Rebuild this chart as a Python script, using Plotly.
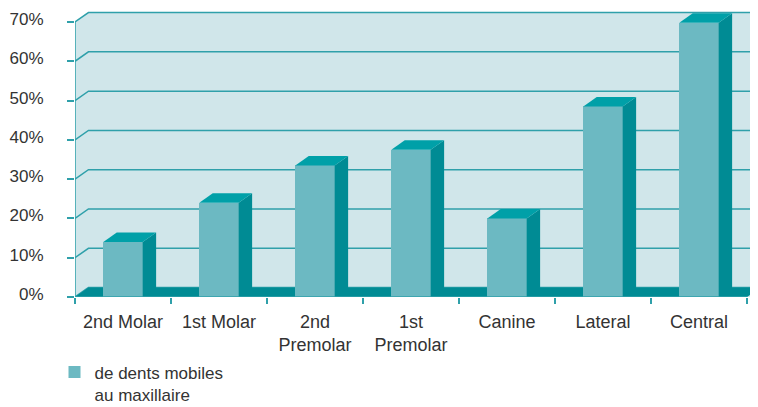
import plotly.graph_objects as go

# dents et pourcentage de dents mobiles
categories = ["2nd Molar", "1st Molar", "2nd<br>Premolar", "1st<br>Premolar",
              "Canine", "Lateral", "Central"]
values = [14, 24, 33.5, 37.5, 20, 48.5, 69.8]
series_name = "de dents mobiles<br>au maxillaire"
y_ticks = [0, 10, 20, 30, 40, 50, 60, 70]
y_ticktext = ["0%", "10%", "20%", "30%", "40%", "50%", "60%", "70%"]

# couleurs
WALL = "#d0e6ea"
GRID = "#2fa0aa"
FRONT = "#6cb9c2"
TOP = "#00a0a8"
SIDE = "#008b94"
TXT = "#333333"

# effet 3D (profondeur en unités des axes)
DX = 0.14
DY = 2.4
BW = 0.41

n = len(categories)
xs = list(range(n))
x0 = -0.5
x1 = n - 0.5

fig = go.Figure()

# faces avant : vraies barres
fig.add_trace(go.Bar(x=xs, y=values, width=BW, marker=dict(color=FRONT, line=dict(width=0)),
                     name=series_name, showlegend=True, hoverinfo="skip"))

# faces latérales et supérieures
for x, v in zip(xs, values):
    l = x - BW / 2
    r = x + BW / 2
    fig.add_trace(go.Scatter(x=[r, r, r + DX, r + DX, r], y=[0, v, v + DY, DY, 0],
                             fill="toself", fillcolor=SIDE, mode="lines",
                             line=dict(width=0, color=SIDE), showlegend=False, hoverinfo="skip"))
    fig.add_trace(go.Scatter(x=[l, r, r + DX, l + DX, l], y=[v, v, v + DY, v + DY, v],
                             fill="toself", fillcolor=TOP, mode="lines",
                             line=dict(width=0, color=TOP), showlegend=False, hoverinfo="skip"))

ytop = y_ticks[-1]
shapes = []
# mur du fond
shapes.append(dict(type="path", layer="below", xref="x", yref="y",
                   path=f"M{x0},0 L{x0},{ytop} L{x0 + DX},{ytop + DY} L{x1 + DX},{ytop + DY} L{x1 + DX},0 Z",
                   fillcolor=WALL, line=dict(width=0)))
# lignes de grille
for v in y_ticks:
    shapes.append(dict(type="path", layer="below", xref="x", yref="y",
                       path=f"M{x0},{v} L{x0 + DX},{v + DY} L{x1 + DX},{v + DY}",
                       line=dict(color=GRID, width=1.5)))
# plancher
shapes.append(dict(type="path", layer="below", xref="x", yref="y",
                   path=f"M{x0},0 L{x0 + DX},{DY} L{x1 + DX},{DY} L{x1},0 Z",
                   fillcolor=SIDE, line=dict(width=0)))
# axe vertical et bord avant
shapes.append(dict(type="line", layer="below", xref="x", yref="y", x0=x0, x1=x0, y0=0, y1=ytop,
                   line=dict(color=GRID, width=1.5)))
shapes.append(dict(type="line", layer="above", xref="x", yref="y", x0=x0, x1=x1, y0=0, y1=0,
                   line=dict(color=GRID, width=1.5)))

# la page ajoute ~8px de marge autour du graphique
W, H = 750, 415
ml, mr, mt, mb = 67, 0, 2, 126
px_per_cat = 96
px_per_pct = 3.9286

fig.update_layout(
    width=W, height=H,
    margin=dict(l=ml, r=mr, t=mt, b=mb, autoexpand=False),
    paper_bgcolor="white", plot_bgcolor="white",
    font=dict(family="Liberation Sans, Arial, sans-serif", size=17, color=TXT),
    shapes=shapes,
    bargap=0,
    xaxis=dict(range=[x0, x0 + (W - ml - mr) / px_per_cat], automargin=False,
               tickvals=xs, ticktext=categories, ticks="outside", ticklen=8,
               tickcolor="rgba(0,0,0,0)", tickfont=dict(size=18),
               showgrid=False, zeroline=False, showline=False,
               minor=dict(tickvals=[x - 0.5 for x in xs] + [x1], ticks="outside",
                          ticklen=6, tickwidth=1.5, tickcolor=GRID, showgrid=False),
               fixedrange=True),
    yaxis=dict(range=[0, (H - mt - mb) / px_per_pct], automargin=False,
               tickvals=y_ticks, ticktext=y_ticktext, ticks="outside", ticklen=7,
               tickwidth=1.5, tickcolor=GRID, ticklabelstandoff=20, ticklabelshift=-3,
               showgrid=False, zeroline=False, showline=False, fixedrange=True),
    showlegend=True,
    legend=dict(orientation="h", xref="container", yref="container",
                x=0.062, y=0.165, xanchor="left", yanchor="top", valign="top",
                bgcolor="rgba(0,0,0,0)", font=dict(size=17, color=TXT)),
)

fig.write_html("out.html")
